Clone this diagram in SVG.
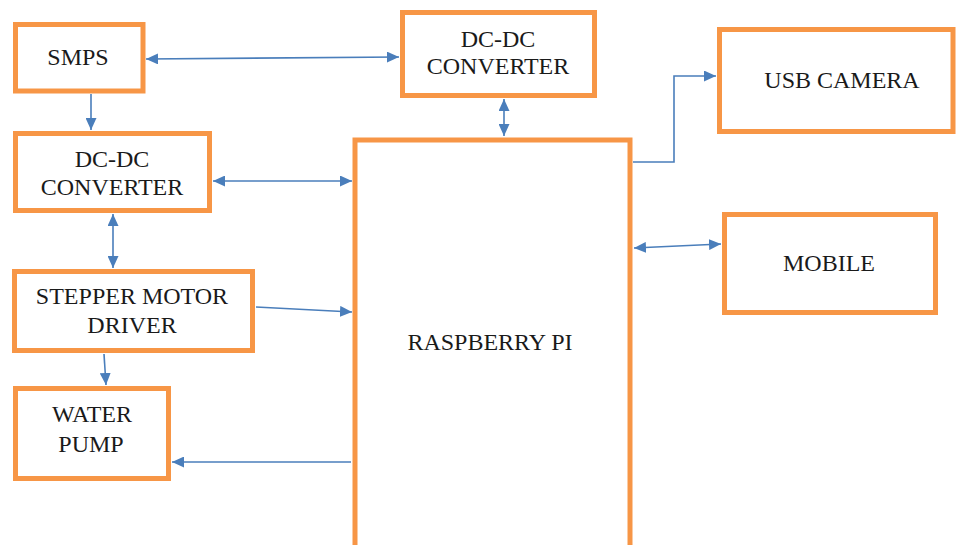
<svg xmlns="http://www.w3.org/2000/svg" width="956" height="545" viewBox="0 0 956 545">
<style>
.box{fill:#fff;stroke:#f79646;stroke-width:5}
.lbl{font-family:"Liberation Serif","Times New Roman",serif;font-size:24px;fill:#1a1a1a;text-anchor:middle}
.con{fill:none;stroke:#4a7ebb;stroke-width:1.6}
.one{marker-end:url(#ah)}
.two{marker-start:url(#ah);marker-end:url(#ah)}
</style>
<defs>
<marker id="ah" markerUnits="userSpaceOnUse" viewBox="0 0 12 11" refX="12" refY="5.5" markerWidth="12" markerHeight="11" orient="auto-start-reverse">
<path d="M0,0 L12,5.5 L0,11 Z" fill="#4a7ebb"/>
</marker>
</defs>
<rect width="956" height="545" fill="#fff"/>
<g id="connectors">
<path class="con two" d="M146,59 L399,57"/>
<path class="con one" d="M91,94 L91,130"/>
<path class="con two" d="M213,181 L352,181"/>
<path class="con two" d="M504,99 L504,136"/>
<path class="con one" d="M633,162 L674,162 L674,76 L716,76"/>
<path class="con two" d="M634,248 L721,244"/>
<path class="con two" d="M113,214 L113,268"/>
<path class="con one" d="M256,307 L352,312"/>
<path class="con one" d="M104,354 L106,385"/>
<path class="con one" d="M351,462 L172,462"/>
</g>
<g id="smps"><rect class="box" x="15.5" y="24.5" width="127.5" height="66.5"/><text class="lbl" x="78" y="65">SMPS</text></g>
<g id="dcdc-left"><rect class="box" x="15.5" y="133.5" width="194" height="77"/><text class="lbl" x="112" y="167">DC-DC</text><text class="lbl" x="112" y="195">CONVERTER</text></g>
<g id="dcdc-top"><rect class="box" x="402.5" y="12.5" width="192" height="83"/><text class="lbl" x="498" y="47">DC-DC</text><text class="lbl" x="498" y="74">CONVERTER</text></g>
<g id="raspberry-pi"><rect class="box" x="355" y="140" width="275" height="410"/><text class="lbl" x="490" y="350">RASPBERRY PI</text></g>
<g id="usb-camera"><rect class="box" x="719.5" y="29.5" width="233.5" height="102"/><text class="lbl" x="842" y="88">USB CAMERA</text></g>
<g id="mobile"><rect class="box" x="724.5" y="214.5" width="211" height="98"/><text class="lbl" x="829" y="271">MOBILE</text></g>
<g id="stepper"><rect class="box" x="14.5" y="271.5" width="238" height="79"/><text class="lbl" x="132" y="304">STEPPER MOTOR</text><text class="lbl" x="132" y="333">DRIVER</text></g>
<g id="water-pump"><rect class="box" x="15.5" y="388.5" width="153" height="90"/><text class="lbl" x="92" y="422">WATER</text><text class="lbl" x="91" y="452">PUMP</text></g>
</svg>
